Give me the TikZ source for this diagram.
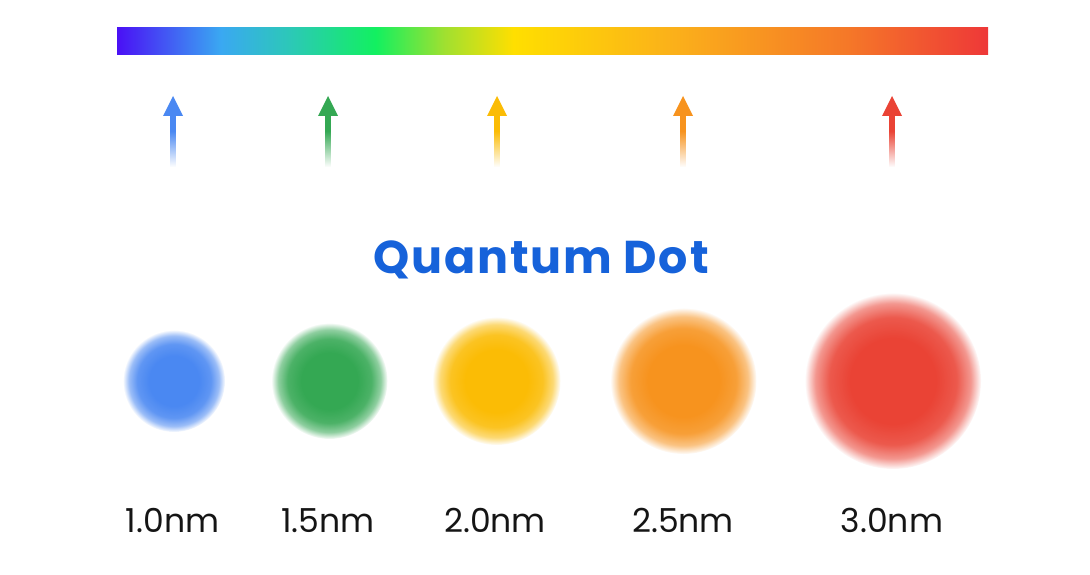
\documentclass[tikz,border=0pt]{standalone}
\usepackage{fontspec}
\setmainfont{Poppins}
\usetikzlibrary{fadings,calc}
\definecolor{qblue}{HTML}{4A88F2}
\definecolor{qgreen}{HTML}{34A853}
\definecolor{qyellow}{HTML}{FBBC05}
\definecolor{qorange}{HTML}{F7931E}
\definecolor{qred}{HTML}{EA4335}
\definecolor{titleblue}{HTML}{1662DA}
\definecolor{labtext}{HTML}{151515}
\definecolor{s1}{HTML}{4A10F5}
\definecolor{s2}{HTML}{3AA8F2}
\definecolor{s3}{HTML}{2CC8B8}
\definecolor{s4}{HTML}{12F060}
\definecolor{s5}{HTML}{A0E030}
\definecolor{s6}{HTML}{FFDF00}
\definecolor{s7}{HTML}{FBB01A}
\definecolor{s8}{HTML}{F57828}
\definecolor{s9}{HTML}{EE3838}
\pgfdeclarehorizontalshading{spectrum}{100bp}{color(0bp)=(s1); color(25bp)=(s1); color(30.95bp)=(s2); color(34.9bp)=(s3); color(39.85bp)=(s4); color(43.8bp)=(s5); color(47.75bp)=(s6); color(57bp)=(s7); color(66.9bp)=(s8); color(75bp)=(s9); color(100bp)=(s9)}
\pgfdeclareradialshading{dotfadeshade}{\pgfpointorigin}{color(0bp)=(white); color(12bp)=(white); color(18bp)=(white!88!black); color(22bp)=(white!55!black); color(25bp)=(black); color(50bp)=(black)}
\pgfdeclarefading{dotfade}{\pgfuseshading{dotfadeshade}}
\pgfdeclareverticalshading{shaftshade}{100bp}{color(0bp)=(black); color(25bp)=(black); color(60bp)=(white); color(100bp)=(white)}
\pgfdeclarefading{shaftfade}{\pgfuseshading{shaftshade}}
\tikzset{
  sizelabel/.style={text=labtext, font=\fontsize{33}{40}\selectfont, anchor=base, inner sep=0pt},
  titlelabel/.style={text=titleblue, font=\fontsize{46}{55}\selectfont\bfseries\addfontfeatures{LetterSpace=4}, anchor=base, inner sep=0pt},
}
\begin{document}
\begin{tikzpicture}[x=1pt,y=1pt]
\fill[white] (0,0) rectangle (1090,-575);
\useasboundingbox (0,0) rectangle (1090,-575);
% spectrum bar
\coordinate (barA) at (117,-28);
\coordinate (barB) at (988,-55);
\shade[shading=spectrum] (barA) rectangle (barB);
% arrows
\foreach \x/\c [count=\i] in {173/qblue, 328/qgreen, 497/qyellow, 683/qorange, 892/qred} {
  \coordinate (tip\i) at (\x,-96);
  \coordinate (foot\i) at (\x,-167);
  \fill[\c] (tip\i) -- ++(10,-20) -- ++(-20,0) -- cycle;
  \fill[\c, path fading=shaftfade] ($(foot\i)+(-3,0)$) rectangle ($(tip\i)+(3,-19.5)$);
}
% title
\node[titlelabel] (title) at (541,-273) {Quantum Dot};
% dots
\foreach \x/\r/\c [count=\i] in {174/51/qblue, 329.5/58/qgreen, 496.5/64/qyellow, 683.5/73/qorange, 893/88/qred} {
  \coordinate (dot\i) at (\x,-381);
  \fill[\c, path fading=dotfade] (dot\i) circle (\r pt);
}
% labels
\node[sizelabel] (lab1) at (172.5,-532) {1.0nm};
\node[sizelabel] (lab2) at (328,-532) {1.5nm};
\node[sizelabel] (lab3) at (495,-532) {2.0nm};
\node[sizelabel] (lab4) at (683,-532) {2.5nm};
\node[sizelabel] (lab5) at (892,-532) {3.0nm};
\end{tikzpicture}
\end{document}
